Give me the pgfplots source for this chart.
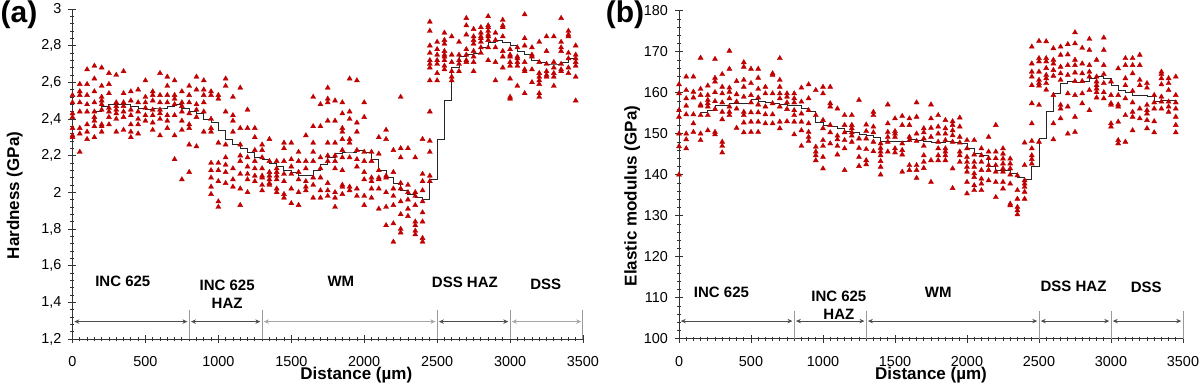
\documentclass[border=0pt]{standalone}
\usepackage{fontspec}
\setmainfont{Liberation Sans}
\usepackage{pgfplots}
\pgfplotsset{compat=1.18}
\usetikzlibrary{arrows.meta}
\definecolor{mred}{RGB}{192,0,0}
\tikzset{
  regl/.style={font=\fontsize{7.5}{9}\selectfont\bfseries, align=center},
  arr/.style={{Stealth[length=2.5pt,width=2.2pt]}-{Stealth[length=2.5pt,width=2.2pt]}, black!70, line width=0.45pt},
}
\begin{document}
\begin{tikzpicture}
\useasboundingbox (0pt,0pt) rectangle (600pt,193pt);
\pgfplotsset{
  myaxis/.style={
    scale only axis, clip=false,
    axis x line*=bottom, axis y line*=left,
    xmin=0, xmax=3500, xtick={0,500,...,3500},
    minor x tick num=9, minor y tick num=4,
    tick align=center, major tick length=4pt, minor tick length=2pt,
    axis line style={black!80, line width=0.5pt},
    every tick/.append style={black!80, line width=0.4pt},
    /pgf/number format/assume math mode=true,
    tick label style={font=\fontsize{7.2}{9}\selectfont},
    xticklabel style={/pgf/number format/1000 sep={}, anchor=center, yshift=-9.2pt},
    xlabel={Distance (µm)},
  },
  pts/.style={only marks, mark=triangle*, mark size=1.45pt, color=mred, mark options={draw=mred, fill=mred, line width=0.2pt}},
  stepl/.style={const plot, no marks, black!85, line width=0.5pt},
}
% ---------------- panel (a) ----------------
\begin{axis}[myaxis, at={(36.25pt,23.5pt)}, anchor=south west,
  width=255.25pt, height=165pt,
  ymin=1.2, ymax=3, ytick={1.2,1.4,1.6,1.8,2,2.2,2.4,2.6,2.8,3},
  yticklabel style={/pgf/number format/.cd, use comma, fixed},
  ylabel={Hardness (GPa)},
  ylabel style={font=\fontsize{8.5}{10}\selectfont\bfseries, at={(axis description cs:-0.113,0.435)}, anchor=center},
  xlabel style={font=\fontsize{8.5}{10}\selectfont\bfseries, at={(axis description cs:0.556,0)}, anchor=center, yshift=-18.3pt},
]
\addplot[pts] coordinates {
(0,2.53)(0,2.49)(0,2.43)(0,2.41)(0,2.35)(0,2.31)(0,2.30)
(50,2.59)(50,2.55)(50,2.53)(50,2.49)(50,2.44)(50,2.35)(50,2.32)(50,2.22)
(100,2.67)(100,2.59)(100,2.53)(100,2.48)(100,2.44)(100,2.37)(100,2.33)(100,2.29)
(150,2.69)(150,2.62)(150,2.55)(150,2.49)(150,2.44)(150,2.41)(150,2.39)(150,2.36)(150,2.30)
(200,2.68)(200,2.58)(200,2.52)(200,2.50)(200,2.48)(200,2.45)(200,2.37)(200,2.36)(200,2.33)
(250,2.65)(250,2.59)(250,2.54)(250,2.46)(250,2.44)(250,2.41)(250,2.37)
(300,2.64)(300,2.49)(300,2.47)(300,2.45)(300,2.43)(300,2.40)(300,2.33)
(350,2.66)(350,2.54)(350,2.49)(350,2.47)(350,2.44)(350,2.41)(350,2.34)
(400,2.55)(400,2.50)(400,2.45)(400,2.42)(400,2.37)(400,2.33)(400,2.30)
(450,2.56)(450,2.49)(450,2.44)(450,2.40)(450,2.37)(450,2.32)
(500,2.61)(500,2.52)(500,2.49)(500,2.46)(500,2.42)(500,2.39)
(550,2.55)(550,2.53)(550,2.50)(550,2.45)(550,2.42)(550,2.38)(550,2.34)
(600,2.65)(600,2.53)(600,2.49)(600,2.45)(600,2.43)(600,2.40)(600,2.31)
(650,2.63)(650,2.58)(650,2.53)(650,2.49)(650,2.42)(650,2.39)(650,2.35)
(700,2.61)(700,2.53)(700,2.51)(700,2.48)(700,2.42)(700,2.31)(700,2.18)
(750,2.55)(750,2.49)(750,2.47)(750,2.44)(750,2.39)(750,2.34)(750,2.07)
(800,2.58)(800,2.53)(800,2.49)(800,2.43)(800,2.37)(800,2.35)(800,2.26)(800,2.11)
(850,2.63)(850,2.56)(850,2.48)(850,2.45)(850,2.41)(850,2.25)
(900,2.61)(900,2.56)(900,2.53)(900,2.49)(900,2.44)(900,2.33)
(950,2.55)(950,2.53)(950,2.40)(950,2.35)(950,2.33)(950,2.16)(950,2.12)(950,2.08)(950,2.03)(950,1.99)
(1000,2.53)(1000,2.51)(1000,2.27)(1000,2.16)(1000,2.12)(1000,2.06)(1000,1.95)(1000,1.92)
(1050,2.62)(1050,2.58)(1050,2.44)(1050,2.26)(1050,2.19)(1050,2.15)(1050,2.11)(1050,2.05)
(1100,2.52)(1100,2.42)(1100,2.39)(1100,2.33)(1100,2.13)(1100,2.07)(1100,2.03)
(1150,2.57)(1150,2.35)(1150,2.26)(1150,2.20)(1150,2.17)(1150,2.10)(1150,2.02)(1150,1.93)
(1200,2.45)(1200,2.35)(1200,2.19)(1200,2.14)(1200,2.10)(1200,2.07)(1200,2.00)
(1250,2.35)(1250,2.30)(1250,2.23)(1250,2.17)(1250,2.13)(1250,2.09)(1250,2.06)
(1300,2.26)(1300,2.23)(1300,2.19)(1300,2.13)(1300,2.09)(1300,2.08)(1300,2.04)(1300,2.01)
(1350,2.29)(1350,2.17)(1350,2.11)(1350,2.09)(1350,2.07)(1350,2.05)(1350,2.04)
(1400,2.17)(1400,2.13)(1400,2.11)(1400,2.09)(1400,2.07)(1400,2.02)(1400,2.00)
(1450,2.27)(1450,2.24)(1450,2.17)(1450,2.10)(1450,2.06)(1450,1.99)(1450,1.97)
(1500,2.27)(1500,2.18)(1500,2.14)(1500,2.10)(1500,2.02)(1500,1.94)
(1550,2.22)(1550,2.17)(1550,2.11)(1550,2.07)(1550,2.00)(1550,1.93)
(1600,2.31)(1600,2.17)(1600,2.13)(1600,2.06)(1600,2.03)(1600,2.01)
(1650,2.52)(1650,2.36)(1650,2.27)(1650,2.22)(1650,2.17)(1650,2.08)(1650,2.04)(1650,1.97)
(1700,2.48)(1700,2.36)(1700,2.19)(1700,2.13)(1700,2.08)(1700,2.01)(1700,1.97)
(1750,2.57)(1750,2.51)(1750,2.49)(1750,2.39)(1750,2.27)(1750,2.20)(1750,2.17)(1750,2.05)(1750,2.01)(1750,1.98)
(1800,2.50)(1800,2.39)(1800,2.27)(1800,2.20)(1800,2.17)(1800,2.13)(1800,2.00)(1800,1.97)(1800,1.92)
(1850,2.49)(1850,2.43)(1850,2.35)(1850,2.33)(1850,2.29)(1850,2.23)(1850,2.19)(1850,2.12)(1850,2.04)(1850,2.03)(1850,1.99)
(1900,2.62)(1900,2.44)(1900,2.40)(1900,2.29)(1900,2.27)(1900,2.19)(1900,2.03)(1900,2.01)
(1950,2.61)(1950,2.38)(1950,2.33)(1950,2.23)(1950,2.18)(1950,2.14)(1950,2.02)(1950,1.98)
(2000,2.49)(2000,2.41)(2000,2.22)(2000,2.17)(2000,2.11)(2000,2.07)(2000,1.98)(2000,1.93)
(2050,2.22)(2050,2.17)(2050,2.08)(2050,2.06)(2050,2.02)(2050,1.97)
(2100,2.30)(2100,2.21)(2100,2.12)(2100,2.08)(2100,2.07)(2100,2.02)(2100,1.91)
(2150,2.34)(2150,2.29)(2150,2.09)(2150,2.08)(2150,2.00)(2150,1.92)(2150,1.82)
(2200,2.23)(2200,2.11)(2200,2.02)(2200,1.98)(2200,1.93)(2200,1.83)(2200,1.73)
(2250,2.52)(2250,2.24)(2250,2.19)(2250,2.05)(2250,2.02)(2250,1.95)(2250,1.88)(2250,1.80)(2250,1.78)
(2300,2.24)(2300,2.04)(2300,2.00)(2300,1.96)(2300,1.91)(2300,1.87)
(2350,2.19)(2350,2.00)(2350,1.98)(2350,1.93)(2350,1.84)(2350,1.82)(2350,1.79)(2350,1.77)
(2400,2.29)(2400,2.10)(2400,2.06)(2400,2.01)(2400,1.95)(2400,1.89)(2400,1.84)(2400,1.75)(2400,1.73)
(2450,2.44)(2450,2.28)(2450,2.22)(2450,2.09)(2450,2.06)
(2450,2.93)(2450,2.88)(2450,2.80)(2450,2.76)(2450,2.72)(2450,2.70)(2450,2.68)(2450,2.61)
(2500,2.82)(2500,2.78)(2500,2.75)(2500,2.72)(2500,2.70)(2500,2.65)(2500,2.61)
(2550,2.87)(2550,2.83)(2550,2.81)(2550,2.77)(2550,2.75)(2550,2.74)(2550,2.72)(2550,2.69)(2550,2.67)
(2600,2.85)(2600,2.75)(2600,2.71)(2600,2.66)(2600,2.63)(2600,2.61)
(2650,2.82)(2650,2.75)(2650,2.72)(2650,2.70)(2650,2.66)
(2700,2.95)(2700,2.91)(2700,2.86)(2700,2.78)(2700,2.75)(2700,2.72)(2700,2.71)
(2750,2.89)(2750,2.85)(2750,2.83)(2750,2.81)(2750,2.77)(2750,2.74)(2750,2.71)(2750,2.66)
(2800,2.90)(2800,2.87)(2800,2.85)(2800,2.84)(2800,2.82)(2800,2.79)(2800,2.76)
(2850,2.96)(2850,2.91)(2850,2.90)(2850,2.88)(2850,2.86)(2850,2.85)(2850,2.83)(2850,2.79)(2850,2.72)
(2900,2.87)(2900,2.83)(2900,2.79)(2900,2.71)(2900,2.61)
(2950,2.94)(2950,2.91)(2950,2.90)(2950,2.85)(2950,2.77)(2950,2.74)(2950,2.68)
(3000,2.78)(3000,2.75)(3000,2.74)(3000,2.71)(3000,2.69)(3000,2.62)(3000,2.52)(3000,2.51)
(3050,2.79)(3050,2.74)(3050,2.73)(3050,2.71)(3050,2.69)(3050,2.58)
(3100,2.97)(3100,2.84)(3100,2.80)(3100,2.71)(3100,2.67)(3100,2.66)(3100,2.54)
(3150,2.79)(3150,2.75)(3150,2.74)(3150,2.67)(3150,2.60)
(3200,2.82)(3200,2.71)(3200,2.65)(3200,2.63)(3200,2.61)(3200,2.59)(3200,2.54)(3200,2.52)
(3250,2.85)(3250,2.77)(3250,2.70)(3250,2.66)(3250,2.64)(3250,2.63)
(3300,2.85)(3300,2.71)(3300,2.68)(3300,2.65)(3300,2.63)(3300,2.58)
(3350,2.95)(3350,2.82)(3350,2.79)(3350,2.77)(3350,2.70)(3350,2.67)(3350,2.66)
(3400,2.88)(3400,2.86)(3400,2.85)(3400,2.76)(3400,2.73)(3400,2.68)(3400,2.65)
(3450,2.80)(3450,2.75)(3450,2.73)(3450,2.71)(3450,2.69)(3450,2.63)(3450,2.50)
};
\addplot[stepl] coordinates {
(150,2.44)(200,2.47)(250,2.48)(300,2.48)(350,2.48)(400,2.47)(450,2.46)(500,2.45)(550,2.46)(600,2.46)
(650,2.47)(700,2.48)(750,2.46)(800,2.44)(850,2.43)(900,2.40)(950,2.38)(1000,2.34)(1050,2.29)(1100,2.26)
(1150,2.24)(1200,2.22)(1250,2.19)(1300,2.18)(1350,2.16)(1400,2.14)(1450,2.12)(1500,2.11)(1550,2.09)(1600,2.09)
(1650,2.12)(1700,2.15)(1750,2.19)(1800,2.21)(1850,2.22)(1900,2.22)(1950,2.23)(2000,2.22)(2050,2.18)(2100,2.12)
(2150,2.08)(2200,2.05)(2250,2.01)(2300,1.99)(2350,1.97)(2400,1.96)(2450,2.07)(2500,2.29)(2550,2.50)(2600,2.68)
(2650,2.74)(2700,2.75)(2750,2.76)(2800,2.79)(2850,2.82)(2900,2.83)(2950,2.82)(3000,2.80)(3050,2.77)(3100,2.75)
(3150,2.72)(3200,2.71)(3250,2.70)(3300,2.70)(3350,2.71)(3400,2.73)(3450,2.73)
};
\draw[gray!80, line width=0.5pt] (axis cs:800,1.2) -- (axis cs:800,1.358);
\draw[gray!80, line width=0.5pt] (axis cs:1300,1.2) -- (axis cs:1300,1.358);
\draw[gray!80, line width=0.5pt] (axis cs:2500,1.2) -- (axis cs:2500,1.358);
\draw[gray!80, line width=0.5pt] (axis cs:3000,1.2) -- (axis cs:3000,1.358);
\draw[gray!80, line width=0.5pt] (axis cs:3500,1.2) -- (axis cs:3500,1.358);
\draw[arr] (axis cs:12,1.295) -- (axis cs:788,1.295);
\draw[arr] (axis cs:812,1.295) -- (axis cs:1288,1.295);
\draw[arr, gray!70] (axis cs:1312,1.295) -- (axis cs:2488,1.295);
\draw[arr] (axis cs:2512,1.295) -- (axis cs:2988,1.295);
\draw[arr, gray!70] (axis cs:3012,1.295) -- (axis cs:3488,1.295);
\node[regl] at (axis cs:345,1.515) {INC 625};
\node[regl, anchor=north] at (axis cs:1060,1.56) {INC 625\\HAZ};
\node[regl] at (axis cs:1840,1.515) {WM};
\node[regl] at (axis cs:2690,1.51) {DSS HAZ};
\node[regl] at (axis cs:3245,1.50) {DSS};
\end{axis}
% ---------------- panel (b) ----------------
\begin{axis}[myaxis, at={(339.5pt,23.65pt)}, anchor=south west,
  width=252pt, height=164pt,
  ymin=100, ymax=180, ytick={100,110,...,180},
  ylabel={Elastic modulus (GPa)},
  ylabel style={font=\fontsize{8.5}{10}\selectfont\bfseries, at={(axis description cs:-0.093,0.435)}, anchor=center},
  xlabel style={font=\fontsize{8.5}{10}\selectfont\bfseries, at={(axis description cs:0.5,0)}, anchor=center, yshift=-18.3pt},
]
\addplot[pts] coordinates {
(0,162.0)(0,159.8)(0,155.7)(0,154.1)(0,150.0)(0,146.9)(0,140.0)
(50,163.9)(50,160.6)(50,158.6)(50,156.8)(50,154.7)(50,150.0)(50,148.6)(50,146.4)
(100,163.9)(100,160.2)(100,158.8)(100,154.7)(100,152.5)(100,150.4)
(150,168.5)(150,160.9)(150,159.4)(150,157.1)(150,156.8)(150,154.5)(150,150.0)(150,148.4)
(200,161.7)(200,159.4)(200,158.2)(200,157.4)(200,156.6)(200,154.5)(200,150.8)
(250,168.2)(250,163.6)(250,162.7)(250,160.1)(250,157.9)(250,156.0)(250,150.4)(250,149.8)
(300,164.5)(300,161.4)(300,159.8)(300,157.6)(300,155.3)(300,153.5)(300,148.0)(300,147.0)(300,145.4)
(350,170.2)(350,165.8)(350,161.2)(350,160.2)(350,158.6)(350,156.6)(350,155.3)(350,154.5)
(400,162.8)(400,159.6)(400,157.8)(400,156.1)(400,151.4)
(450,167.4)(450,166.3)(450,163.1)(450,161.4)(450,159.0)(450,155.3)(450,154.5)(450,152.7)(450,150.3)
(500,165.8)(500,162.3)(500,159.4)(500,157.6)(500,155.2)(500,152.9)(500,150.4)
(550,165.8)(550,163.6)(550,160.9)(550,158.8)(550,157.1)(550,155.2)(550,152.9)(550,150.4)
(600,161.4)(600,159.8)(600,156.6)(600,154.7)(600,152.5)
(650,164.7)(650,164.3)(650,159.8)(650,157.4)(650,154.7)(650,152.5)
(700,168.4)(700,163.1)(700,161.4)(700,159.8)(700,158.6)(700,156.6)(700,152.9)(700,151.3)
(750,159.8)(750,159.0)(750,157.6)(750,156.0)(750,153.0)
(800,159.8)(800,158.6)(800,157.6)(800,155.7)(800,154.5)(800,152.9)(800,149.8)
(850,161.2)(850,157.8)(850,154.9)(850,152.9)(850,150.8)(850,147.0)
(900,162.0)(900,158.6)(900,155.7)(900,152.5)(900,150.4)(900,149.2)(900,148.2)
(950,160.6)(950,154.5)(950,146.8)(950,145.6)(950,144.7)(950,143.5)
(1000,161.4)(1000,159.8)(1000,153.3)(1000,151.3)(1000,148.4)(1000,147.0)(1000,144.3)(1000,141.5)
(1050,161.4)(1050,157.4)(1050,156.6)(1050,152.1)(1050,150.3)(1050,147.6)
(1100,156.1)(1100,149.5)(1100,148.6)(1100,147.0)(1100,144.9)
(1150,154.5)(1150,152.1)(1150,150.3)(1150,148.4)(1150,146.4)(1150,141.1)
(1200,154.5)(1200,152.1)(1200,151.3)(1200,150.3)(1200,149.5)(1200,148.0)
(1250,158.2)(1250,148.8)(1250,146.5)(1250,144.3)(1250,142.1)
(1300,152.2)(1300,150.6)(1300,148.8)(1300,146.2)(1300,143.5)(1300,142.5)
(1350,155.3)(1350,154.5)(1350,151.7)(1350,150.3)(1350,148.0)(1350,145.7)
(1400,147.6)(1400,146.5)(1400,145.6)(1400,144.7)(1400,143.3)(1400,141.9)(1400,140.0)
(1450,157.1)(1450,152.5)(1450,150.4)(1450,149.2)(1450,148.0)(1450,145.6)
(1500,153.7)(1500,150.6)(1500,150.0)(1500,149.2)(1500,146.4)(1500,145.4)
(1550,154.3)(1550,152.1)(1550,147.6)(1550,146.0)(1550,144.9)(1550,140.7)
(1600,153.7)(1600,152.1)(1600,149.2)(1600,148.4)(1600,142.3)(1600,141.1)
(1650,157.6)(1650,154.1)(1650,150.0)(1650,148.2)(1650,142.3)(1650,141.1)(1650,139.2)
(1700,151.3)(1700,150.3)(1700,148.8)(1700,147.0)(1700,144.7)(1700,143.1)(1700,141.6)
(1750,157.1)(1750,153.7)(1750,151.4)(1750,149.2)(1750,143.5)(1750,138.2)
(1800,154.5)(1800,151.7)(1800,150.0)(1800,148.0)(1800,146.4)(1800,144.7)(1800,143.5)
(1850,153.3)(1850,151.3)(1850,150.0)(1850,148.4)(1850,146.4)(1850,145.6)(1850,144.7)(1850,143.5)
(1900,153.0)(1900,152.1)(1900,150.8)(1900,149.6)(1900,148.0)(1900,141.5)(1900,136.7)
(1950,153.9)(1950,151.7)(1950,149.2)(1950,147.8)(1950,145.6)(1950,144.7)(1950,143.1)
(2000,148.4)(2000,146.4)(2000,144.3)(2000,143.1)(2000,141.9)(2000,140.7)(2000,138.2)(2000,135.4)
(2050,148.4)(2050,144.9)(2050,143.1)(2050,141.9)(2050,140.3)(2050,139.4)(2050,137.4)(2050,136.2)
(2100,146.4)(2100,144.7)(2100,143.1)(2100,141.1)(2100,139.0)(2100,137.8)(2100,136.2)
(2150,149.2)(2150,145.6)(2150,144.0)(2150,142.3)(2150,141.1)(2150,138.6)
(2200,152.1)(2200,145.6)(2200,144.0)(2200,142.3)(2200,140.7)(2200,138.2)(2200,134.5)
(2250,146.4)(2250,145.1)(2250,143.9)(2250,142.7)(2250,141.5)(2250,140.7)(2250,138.2)(2250,136.6)
(2300,143.9)(2300,142.7)(2300,141.5)(2300,140.0)(2300,137.8)(2300,132.9)(2300,132.5)
(2350,139.8)(2350,136.2)(2350,134.1)(2350,132.1)(2350,131.3)(2350,130.3)
(2400,147.8)(2400,142.3)(2400,138.6)(2400,137.8)(2400,137.0)(2400,135.8)(2400,134.1)
(2450,148.2)(2450,146.4)(2450,144.7)(2450,143.8)(2450,142.7)
(2450,171.2)(2450,167.1)(2450,165.1)(2450,163.9)(2450,161.8)(2450,157.4)(2450,152.5)
(2500,172.6)(2500,168.4)(2500,167.6)(2500,165.1)(2500,163.1)(2500,162.3)(2500,161.7)(2500,157.0)(2500,148.0)
(2550,172.5)(2550,168.4)(2550,167.6)(2550,166.0)(2550,164.3)(2550,163.5)(2550,162.3)(2550,160.7)
(2600,170.8)(2600,168.0)(2600,167.1)(2600,165.5)(2600,164.1)(2600,159.4)(2600,152.5)(2600,148.6)
(2650,171.2)(2650,169.2)(2650,166.3)(2650,164.7)(2650,163.1)(2650,157.0)(2650,156.1)(2650,153.7)
(2700,171.8)(2700,169.3)(2700,166.7)(2700,164.3)(2700,159.8)(2700,156.6)(2700,150.0)
(2750,174.7)(2750,172.0)(2750,168.0)(2750,166.7)(2750,164.9)(2750,162.8)(2750,159.4)(2750,154.1)(2750,150.4)
(2800,170.9)(2800,167.1)(2800,164.7)(2800,162.8)(2800,159.8)(2800,157.4)
(2850,173.1)(2850,170.4)(2850,166.7)(2850,165.1)(2850,163.9)(2850,160.6)(2850,155.7)
(2900,168.0)(2900,163.9)(2900,162.7)(2900,161.8)(2900,161.0)(2900,160.1)(2900,158.8)
(2950,173.4)(2950,170.4)(2950,166.7)(2950,164.5)(2950,162.3)(2950,160.1)(2950,158.6)
(3000,162.7)(3000,159.4)(3000,157.4)(3000,157.0)(3000,152.5)(3000,151.7)
(3050,165.9)(3050,159.4)(3050,157.1)(3050,156.6)(3050,152.9)(3050,148.4)(3050,147.6)
(3100,168.4)(3100,166.7)(3100,163.5)(3100,161.8)(3100,158.6)(3100,154.5)(3100,148.0)
(3150,168.4)(3150,166.7)(3150,164.7)(3150,160.4)(3150,157.6)(3150,155.3)(3150,154.1)(3150,150.8)
(3200,169.2)(3200,166.7)(3200,163.1)(3200,161.8)(3200,156.1)(3200,153.7)
(3250,162.3)(3250,161.2)(3250,157.0)(3250,155.7)(3250,154.9)(3250,153.3)(3250,151.3)
(3300,159.4)(3300,157.6)(3300,156.1)(3300,153.0)(3300,150.3)
(3350,165.1)(3350,164.5)(3350,163.5)(3350,162.0)(3350,159.0)(3350,157.8)(3350,156.1)
(3400,163.5)(3400,162.3)(3400,160.6)(3400,157.8)(3400,156.6)(3400,155.3)
(3450,163.9)(3450,159.4)(3450,157.6)(3450,156.1)(3450,154.1)(3450,152.1)(3450,150.3)
};
\addplot[stepl] coordinates {
(150,155.2)(200,155.7)(250,157.0)(300,156.8)(350,157.4)(400,157.4)(450,157.4)(500,158.4)(550,157.9)(600,157.6)
(650,157.4)(700,157.1)(750,157.0)(800,156.8)(850,156.1)(900,155.3)(950,152.7)(1000,152.1)(1050,151.7)(1100,151.3)
(1150,150.6)(1200,150.4)(1250,149.8)(1300,149.5)(1350,149.0)(1400,148.2)(1450,148.2)(1500,148.2)(1550,148.2)(1600,148.6)
(1650,148.4)(1700,148.0)(1750,147.8)(1800,147.8)(1850,148.0)(1900,147.8)(1950,147.6)(2000,146.5)(2050,145.1)(2100,144.7)
(2150,141.9)(2200,141.1)(2250,141.1)(2300,140.3)(2350,139.4)(2400,138.9)(2450,141.9)(2500,148.8)(2550,155.3)(2600,159.8)
(2650,162.3)(2700,162.7)(2750,162.4)(2800,162.7)(2850,163.5)(2900,163.9)(2950,163.5)(3000,161.7)(3050,160.6)(3100,160.1)
(3150,159.4)(3200,159.2)(3250,159.0)(3300,157.9)(3350,158.2)(3400,158.2)(3450,157.9)
};
\draw[gray!80, line width=0.5pt] (axis cs:800,100) -- (axis cs:800,106.7);
\draw[gray!80, line width=0.5pt] (axis cs:1300,100) -- (axis cs:1300,106.7);
\draw[gray!80, line width=0.5pt] (axis cs:2500,100) -- (axis cs:2500,106.7);
\draw[gray!80, line width=0.5pt] (axis cs:3000,100) -- (axis cs:3000,106.7);
\draw[gray!80, line width=0.5pt] (axis cs:3500,100) -- (axis cs:3500,106.7);
\draw[arr] (axis cs:12,104.3) -- (axis cs:788,104.3);
\draw[arr] (axis cs:812,104.3) -- (axis cs:1288,104.3);
\draw[arr] (axis cs:1312,104.3) -- (axis cs:2488,104.3);
\draw[arr] (axis cs:2512,104.3) -- (axis cs:2988,104.3);
\draw[arr] (axis cs:3012,104.3) -- (axis cs:3488,104.3);
\node[regl] at (axis cs:295,111.2) {INC 625};
\node[regl, anchor=north] at (axis cs:1110,113.3) {INC 625\\HAZ};
\node[regl] at (axis cs:1800,111.3) {WM};
\node[regl] at (axis cs:2740,112.8) {DSS HAZ};
\node[regl] at (axis cs:3245,112.6) {DSS};
\end{axis}
\node[font=\fontsize{15}{18}\selectfont\bfseries, inner sep=0pt] at (9.5pt,185.5pt) {(a)};
\node[font=\fontsize{15}{18}\selectfont\bfseries, inner sep=0pt] at (312.5pt,185.5pt) {(b)};
\end{tikzpicture}
\end{document}
